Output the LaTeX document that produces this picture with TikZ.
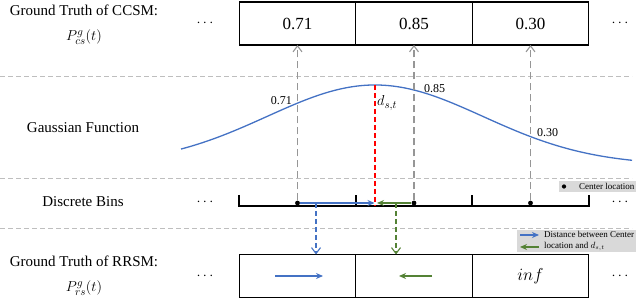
\documentclass[tikz,border=0pt]{standalone}
\usepackage{fontspec}
\setmainfont{Liberation Serif}
\usepackage{tikz}
\usetikzlibrary{positioning,calc}
\usetikzlibrary{arrows.meta}
\definecolor{CurveBlue}{RGB}{68,114,196}
\definecolor{ShiftGreen}{RGB}{84,130,53}
\definecolor{GuideGray}{RGB}{150,150,150}
\definecolor{SepGray}{RGB}{190,190,190}
\definecolor{KeyGray}{RGB}{217,217,217}
\tikzset{
	cell/.style={draw=black,line width=1.4pt,outer sep=0pt,inner sep=0pt,
		minimum width=116.5pt,minimum height=43pt,font=\fontsize{17}{20}\selectfont},
	rowlab/.style={align=center,font=\fontsize{15}{19}\selectfont},
	dots/.style={font=\fontsize{15}{18}\selectfont},
	sep/.style={draw=SepGray,line width=0.9pt,dash pattern=on 5pt off 3pt},
	guide/.style={draw=GuideGray,line width=1.1pt,dash pattern=on 7pt off 4pt,
		-{Straight Barb[length=6pt,width=9pt]}},
	ctr/.style={circle,fill=black,inner sep=1.7pt},
	bin/.style={draw=black,line width=1.3pt},
	gauss/.style={draw=CurveBlue,line width=1.3pt},
	mu/.style={draw=red,line width=1.4pt,dash pattern=on 5pt off 3pt},
	shiftb/.style={draw=CurveBlue,line width=1.2pt,-{Stealth[length=7pt,width=6pt]}},
	shiftg/.style={draw=ShiftGreen,line width=1.2pt,-{Stealth[length=7pt,width=6pt]}},
	dropb/.style={draw=CurveBlue,line width=1.1pt,dash pattern=on 5pt off 3pt,
		-{Straight Barb[length=6pt,width=9pt]}},
	dropg/.style={draw=ShiftGreen,line width=1.1pt,dash pattern=on 5pt off 3pt,
		-{Straight Barb[length=6pt,width=9pt]}},
	val/.style={font=\fontsize{12}{14}\selectfont,inner sep=1pt},
	keybox/.style={fill=KeyGray,inner sep=0pt},
	keytxt/.style={font=\fontsize{9}{11.5}\selectfont,inner sep=0pt,anchor=west,align=left},
}
\begin{document}
\begin{tikzpicture}[x=1pt,y=1pt]
	\useasboundingbox (0,0) rectangle (640,299);
	% row separators
	\foreach \y in {223,121,71}
	\draw[sep] (0,\y) -- (632,\y);
	% row labels
	\node[rowlab] (lcs) at (84,274.5) {Ground Truth of CCSM:\\[6pt]$P^{g}_{cs}(t)$};
	\node[rowlab] (lgf) at (83,171) {Gaussian Function};
	\node[rowlab] (ldb) at (83,97) {Discrete Bins};
	\node[rowlab] (lrs) at (84,23.5) {Ground Truth of RRSM:\\[6pt]$P^{g}_{rs}(t)$};
	\foreach \n/\y in {t/275.5,b/97,r/23}{
		\node[dots] (dl\n) at (205,\y) {$\cdots$};
		\node[dots] (dr\n) at (620,\y) {$\cdots$};
	}
	% CCSM cells
	\node[cell] (c1) at (297.5,275.5) {0.71};
	\node[cell,right=0pt of c1] (c2) {0.85};
	\node[cell,right=0pt of c2] (c3) {0.30};
	% RRSM cells
	\node[cell] (r1) at (297.5,23) {};
	\node[cell,right=0pt of r1] (r2) {};
	\node[cell,right=0pt of r2] (r3) {$inf$};
	% gaussian
	\draw[gauss] plot[domain=-1.796:2.38,samples=90,smooth] ({375+108*\x},{134+80*exp(-\x*\x/2)});
	\coordinate (pk) at (375,214);
	\coordinate (g1) at (297.5,195.8);
	\coordinate (g2) at (414,209);
	\coordinate (g3) at (530.5,162.4);
	\node[val,left=4.5pt of g1,yshift=3pt] (v1) {0.71};
	\node[val,right=9pt of g2,yshift=1pt] (v2) {0.85};
	\node[val,right=5.5pt of g3,yshift=4pt] (v3) {0.30};
	% bins
	\draw[bin] (239,104) |- (589,93) -- (589,104);
	\foreach \x in {356,472}
	\draw[bin] (\x,93) -- (\x,104);
	\foreach \i/\x in {1/297.5,2/414,3/530.5}
	\node[ctr] (p\i) at (\x,96) {};
	\foreach \i in {1,2,3}
	\draw[guide] (p\i) -- (c\i.south);
	% center of gaussian
	\coordinate (pb) at (375,93);
	\draw[mu] (pk) -- (pb);
	\node[inner sep=1pt,anchor=west,font=\fontsize{15}{18}\selectfont] (ds) at (376,196) {$d_{s,t}$};
	% distances
	\coordinate (mb) at (374.5,96);
	\coordinate (mg) at (377,96);
	\draw[shiftb] (p1) -- (mb);
	\draw[shiftg] (p2) -- (mg);
	\coordinate (qb) at (316,96);
	\coordinate (qg) at (396,96);
	\draw[dropb] (qb) -- (qb |- r1.north);
	\draw[dropg] (qg) -- (qg |- r2.north);
	\coordinate (ab1) at (275,23);
	\coordinate (ab2) at (323,23);
	\coordinate (ag1) at (432,23);
	\coordinate (ag2) at (399,23);
	\draw[shiftb] (ab1) -- (ab2);
	\draw[shiftg] (ag1) -- (ag2);
	% legends
	\node[keybox,minimum width=77pt,minimum height=11pt] (k1) at (597.5,112.5) {};
	\node[ctr,inner sep=1.5pt] (kd) at (564,112.5) {};
	\node[keytxt] (kt1) at (579,112.5) {Center location};
	\node[keybox,minimum width=119pt,minimum height=22pt] (k2) at (576.5,58) {};
	\coordinate (kb1) at (520,64);
	\coordinate (kb2) at (539,64);
	\coordinate (kg1) at (539,52);
	\coordinate (kg2) at (520,52);
	\draw[shiftb] (kb1) -- (kb2);
	\draw[shiftg] (kg1) -- (kg2);
	\node[keytxt] (kt2) at (544,58) {Distance between Center\\location and $d_{s,t}$};
\end{tikzpicture}
\end{document}
